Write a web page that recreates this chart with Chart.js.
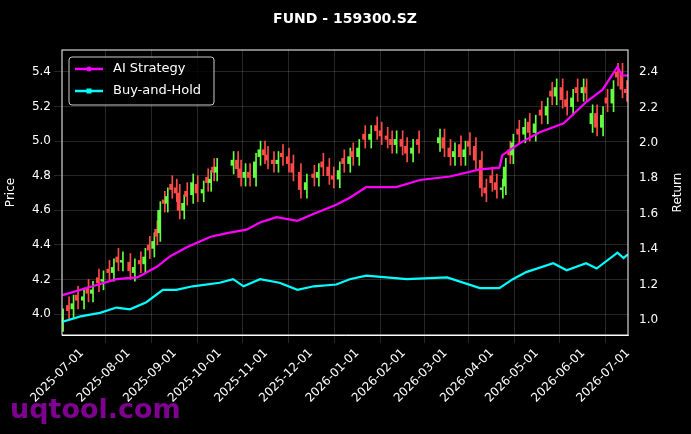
<!DOCTYPE html><html><head><meta charset="utf-8">
<script src="https://cdn.jsdelivr.net/npm/chart.js@4"></script>
<style>html,body{margin:0;background:#000}#w{width:691px;height:434px}</style></head><body><div id="w"><canvas id="c"></canvas></div>
<script>
// day offsets from 2025-07-01
const candleDays=[-13,-9,-6,-3,1,4,7,11,14,18,21,24,27,32,35,39,42,45,48,50,52,55,57,60,63,65,68,70,74,77,81,84,86,88,90,101,104,106,109,112,116,119,122,124,128,131,134,138,141,146,150,155,158,161,165,168,172,175,179,181,185,189,193,197,200,204,207,210,214,217,221,225,239,242,246,249,253,256,259,263,267,270,274,277,281,283,286,288,292,296,299,303,307,311,314,317,321,324,328,331,335,337,341,344,348,351,355,358,361,364];
const closes=[3.98,4.02,4.06,4.08,4.10,4.12,4.14,4.18,4.20,4.24,4.27,4.30,4.31,4.25,4.27,4.29,4.33,4.37,4.42,4.45,4.60,4.64,4.68,4.72,4.70,4.60,4.64,4.68,4.76,4.70,4.72,4.76,4.78,4.82,4.85,4.89,4.84,4.79,4.82,4.79,4.88,4.95,4.92,4.89,4.87,4.89,4.91,4.87,4.82,4.72,4.76,4.79,4.82,4.85,4.80,4.78,4.83,4.87,4.91,4.91,4.96,5.01,5.04,5.06,5.03,5.01,4.98,5.01,4.97,4.93,4.96,4.98,5.02,4.96,4.91,4.94,4.91,4.95,4.97,4.89,4.73,4.70,4.76,4.72,4.73,4.85,4.92,4.99,5.04,5.08,5.05,5.10,5.15,5.20,5.26,5.31,5.24,5.20,5.25,5.28,5.31,5.28,5.16,5.08,5.15,5.22,5.30,5.37,5.30,5.28];
const opens=[3.95,4.05,4.03,4.11,4.08,4.15,4.12,4.21,4.19,4.26,4.24,4.33,4.30,4.30,4.24,4.31,4.29,4.40,4.38,4.49,4.47,4.66,4.64,4.75,4.73,4.70,4.60,4.71,4.69,4.75,4.70,4.79,4.76,4.85,4.82,4.86,4.89,4.84,4.79,4.82,4.79,4.91,4.95,4.92,4.89,4.87,4.93,4.91,4.87,4.82,4.72,4.81,4.79,4.88,4.85,4.80,4.78,4.90,4.87,4.94,4.91,5.04,5.01,5.09,5.06,5.03,5.01,4.98,5.01,4.97,4.93,5.01,4.99,5.02,4.96,4.91,4.98,4.91,5.00,4.97,4.89,4.73,4.80,4.76,4.72,4.74,4.95,4.92,5.07,5.04,5.11,5.05,5.18,5.15,5.29,5.26,5.31,5.24,5.20,5.31,5.28,5.31,5.10,5.16,5.08,5.25,5.22,5.40,5.40,5.30];
const aiDays=[-13,7,23,37,50,59,70,86,97,110,119,130,144,155,170,179,190,210,226,246,266,279,281,293,306,322,337,348,358,361,365];
const aiVals=[1.14,1.19,1.23,1.24,1.30,1.36,1.41,1.47,1.49,1.51,1.55,1.58,1.56,1.60,1.65,1.69,1.75,1.75,1.79,1.81,1.85,1.86,1.93,2.00,2.06,2.11,2.23,2.30,2.43,2.38,2.38];
const bhDays=[-13,-1,12,23,32,43,54,63,74,92,101,108,119,132,144,155,170,179,190,217,244,266,279,288,297,315,324,337,344,358,362,365];
const bhVals=[0.99,1.02,1.04,1.07,1.06,1.10,1.17,1.17,1.19,1.21,1.23,1.19,1.23,1.21,1.17,1.19,1.20,1.23,1.25,1.23,1.24,1.18,1.18,1.23,1.27,1.32,1.28,1.32,1.29,1.38,1.35,1.37];
const monthDays=[0,31,62,92,123,153,184,215,243,274,304,335,365];
const monthLabels=['2025-07-01','2025-08-01','2025-09-01','2025-10-01','2025-11-01','2025-12-01','2026-01-01','2026-02-01','2026-03-01','2026-04-01','2026-05-01','2026-06-01','2026-07-01'];
const priceTicks=[4.0,4.2,4.4,4.6,4.8,5.0,5.2,5.4];
const retTicks=[1.0,1.2,1.4,1.6,1.8,2.0,2.2,2.4];

const up='#66ff44',dn='#ff4a4a';
const col=candleDays.map((d,i)=>closes[i]>=opens[i]?up:dn);
const bodies=candleDays.map((d,i)=>({x:d,y:[opens[i],closes[i]]}));
const wicks=candleDays.map((d,i)=>({x:d,y:[Math.min(opens[i],closes[i])-0.05,Math.max(opens[i],closes[i])+0.05]}));
const grid={color:'rgba(255,255,255,0.25)',borderDash:[3,3],lineWidth:0.6};
const fix=w=>function(s){s.width=w;};
const deco={id:'deco',afterDraw(ch){const c=ch.ctx,a=ch.chartArea;c.save();
c.fillStyle='#fff';c.font='bold 14px "DejaVu Sans"';c.textAlign='center';c.fillText('FUND - 159300.SZ',345,23);
c.strokeStyle='#fff';c.lineWidth=1;c.strokeRect(a.left,a.top,a.right-a.left,a.bottom-a.top);
c.save();c.translate(678,(a.top+a.bottom)/2);c.rotate(-Math.PI/2);c.font='12px "DejaVu Sans"';c.textBaseline='middle';c.fillText('Return',0,0);c.restore();
c.fillStyle='rgba(0,0,0,0.8)';c.strokeStyle='#ccc';c.beginPath();c.roundRect(69,57,145,48,3);c.fill();c.stroke();
c.font='13px "DejaVu Sans"';c.textAlign='left';c.textBaseline='middle';
[['AI Strategy','#ff00ff',69],['Buy-and-Hold','#00ffff',91]].forEach(([t,cl,y],k)=>{c.strokeStyle=cl;c.lineWidth=2.5;c.beginPath();c.moveTo(75,y);c.lineTo(103,y);c.stroke();c.fillStyle=cl;if(k==0){c.beginPath();c.arc(89,y,2.5,0,7);c.fill();}else c.fillRect(86.5,y-2.5,5,5);c.fillStyle='#fff';c.fillText(t,113,y);});
c.fillStyle='rgba(150,0,170,0.85)';c.font='bold 27px "DejaVu Sans"';c.textBaseline='alphabetic';c.fillText('uqtool.com',10,418);
c.restore();}};
new Chart(document.getElementById('c'),{type:'bar',data:{datasets:[
{type:'line',label:'AI Strategy',data:aiDays.map((d,i)=>({x:d,y:aiVals[i]})),yAxisID:'y1',borderColor:'#ff00ff',borderWidth:2.2,pointRadius:0,tension:0,order:0},
{type:'line',label:'Buy-and-Hold',data:bhDays.map((d,i)=>({x:d,y:bhVals[i]})),yAxisID:'y1',borderColor:'#00ffff',borderWidth:2.2,pointRadius:0,tension:0,order:0},
{data:wicks,backgroundColor:col,barThickness:1,yAxisID:'y',order:2},
{data:bodies,backgroundColor:col,barThickness:2.2,minBarLength:1,yAxisID:'y',order:1}
]},options:{responsive:true,maintainAspectRatio:false,animation:false,layout:{padding:{top:50}},
plugins:{legend:{display:false},tooltip:{enabled:false}},
scales:{x:{type:'linear',min:-13.4,max:365,offset:false,afterFit:function(s){s.height=99;},afterBuildTicks(s){s.ticks=monthDays.map(v=>({value:v}));},
ticks:{color:'#fff',font:{size:12,family:'DejaVu Sans'},maxRotation:45,minRotation:45,autoSkip:false,callback:(v)=>monthLabels[monthDays.indexOf(v)]},grid:grid,border:{color:'#fff'}},
y:{position:'left',min:3.879,max:5.527,afterFit:fix(62),afterBuildTicks(s){s.ticks=priceTicks.map(v=>({value:v}));},ticks:{color:'#fff',font:{size:12,family:'DejaVu Sans'},callback:v=>v.toFixed(1)},grid:grid,title:{display:true,text:'Price',color:'#fff',font:{size:12,family:'DejaVu Sans'}}},
y1:{position:'right',min:0.915,max:2.524,afterFit:fix(63),afterBuildTicks(s){s.ticks=retTicks.map(v=>({value:v}));},ticks:{color:'#fff',font:{size:12,family:'DejaVu Sans'},callback:v=>v.toFixed(1)},grid:{display:false},title:{display:false}}
}},plugins:[deco]});
</script></body></html>
